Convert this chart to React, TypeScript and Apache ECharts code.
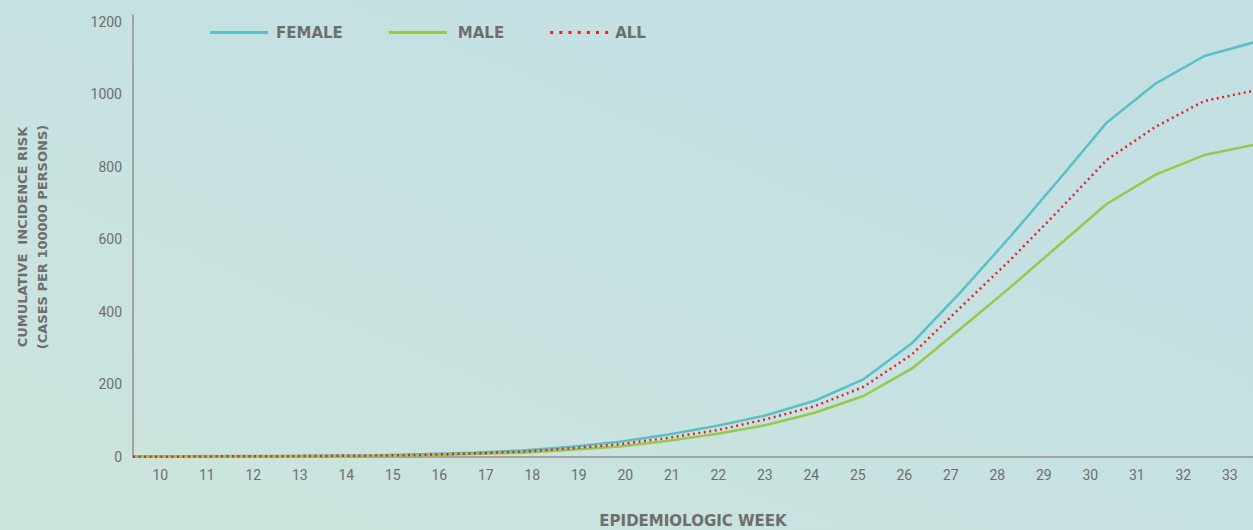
import React, { useEffect, useRef } from "react";
import * as echarts from "echarts";

const weeks = ["10","11","12","13","14","15","16","17","18","19","20","21","22","23","24","25","26","27","28","29","30","31","32","33"];
const female = [2, 2, 3, 3, 4, 5, 8, 12, 18, 28, 42, 62, 86, 115, 155, 214, 314, 455, 605, 762, 922, 1029, 1105, 1142];
const male = [1, 1, 2, 2, 2, 3, 5, 8, 12, 20, 29, 45, 64, 88, 122, 168, 244, 354, 466, 582, 698, 778, 832, 860];
const all = [1, 1, 2, 2, 3, 4, 6, 10, 15, 24, 35, 53, 74, 104, 140, 193, 283, 413, 541, 678, 819, 910, 981, 1009];
const yTicks = [0, 200, 400, 600, 800, 1000, 1200];

const TXT = "#6e6e6e";
const AXIS = "#a3a3a3";
const NARROW = "'Roboto', sans-serif";
const BOLD = "'DejaVu Sans', sans-serif";

const DOTS = (() => {
  let d = "path://";
  for (let i = 0; i < 7; i++) {
    const x = i * 9.17;
    d += `M${x.toFixed(2)} 0h3v3h-3z`;
  }
  return d;
})();

export default function App() {
  const ref = useRef<HTMLDivElement>(null);
  useEffect(() => {
    document.body.style.margin = "0";
    const chart = echarts.init(ref.current!, null, { renderer: "svg" });
    chart.setOption({
      animation: false,
      backgroundColor: {
        type: "linear", x: 0, y: 1, x2: 1, y2: 0,
        colorStops: [
          { offset: 0, color: "#cee5dd" },
          { offset: 0.5, color: "#c6e1e1" },
          { offset: 1, color: "#c2dfe3" },
        ],
      },
      grid: [
        { left: 133, right: 0, top: 15, bottom: 73, outerBoundsMode: "none" },
        { left: 137, right: 0, top: 15, bottom: 73, outerBoundsMode: "none" },
      ],
      legend: {
        left: 210,
        top: 25,
        padding: 0,
        itemWidth: 58,
        itemHeight: 3,
        itemGap: 46,
        textStyle: { color: TXT, fontFamily: BOLD, fontWeight: 700, fontSize: 15, padding: [0, 0, 0, 3] },
        data: [
          { name: "FEMALE", icon: "rect" },
          { name: "MALE", icon: "rect", textStyle: { padding: [0, 13, 0, 6] } },
          { name: "ALL", icon: DOTS, textStyle: { padding: [0, 0, 0, 2] } },
        ],
      },
      xAxis: [
        {
          type: "category",
          gridIndex: 1,
          data: weeks,
          boundaryGap: true,
          axisLine: { show: false },
          axisTick: { show: false },
          axisLabel: { color: TXT, fontFamily: NARROW, fontSize: 14, margin: 11 },
        },
        {
          type: "category",
          gridIndex: 0,
          data: weeks,
          boundaryGap: false,
          axisLine: { show: true, lineStyle: { color: AXIS, width: 2 } },
          axisTick: { show: false },
          axisLabel: { show: false },
          name: "EPIDEMIOLOGIC WEEK",
          nameLocation: "middle",
          nameGap: 56,
          nameTextStyle: { color: TXT, fontFamily: BOLD, fontWeight: 700, fontSize: 15 },
        },
      ],
      yAxis: [
        {
          type: "value",
          gridIndex: 0,
          min: 0,
          max: 1218,
          axisLine: { show: true, lineStyle: { color: AXIS, width: 2 } },
          axisTick: { show: false },
          splitLine: { show: false },
          axisLabel: {
            color: TXT, fontFamily: NARROW, fontSize: 14, margin: 11,
            customValues: yTicks, formatter: (v: number) => String(v),
          },
        },
        {
          type: "value",
          gridIndex: 1,
          min: 0,
          max: 1218,
          show: false,
        },
      ],
      graphic: [
        {
          type: "text",
          rotation: Math.PI / 2,
          x: 32,
          y: 237,
          style: {
            text: "CUMULATIVE  INCIDENCE RISK\n(CASES PER 100000 PERSONS)",
            fill: TXT,
            font: `700 13px ${BOLD}`,
            align: "center",
            verticalAlign: "middle",
            lineHeight: 20,
          },
        },
      ],
      series: [
        {
          name: "FEMALE", type: "line", xAxisIndex: 1, yAxisIndex: 0, data: female,
          symbol: "none", lineStyle: { color: "#5bbfc6", width: 2.5 }, itemStyle: { color: "#5bbfc6" },
        },
        {
          name: "MALE", type: "line", xAxisIndex: 1, yAxisIndex: 0, data: male,
          symbol: "none", lineStyle: { color: "#94c94c", width: 2.5 }, itemStyle: { color: "#94c94c" },
        },
        {
          name: "ALL", type: "line", xAxisIndex: 1, yAxisIndex: 0, data: all,
          symbol: "none", lineStyle: { color: "#e8202a", width: 2.5, type: [2, 3.5] }, itemStyle: { color: "#e8202a" },
        },
      ],
    });
    return () => chart.dispose();
  }, []);
  return <div ref={ref} style={{ width: 1253, height: 530 }} />;
}
